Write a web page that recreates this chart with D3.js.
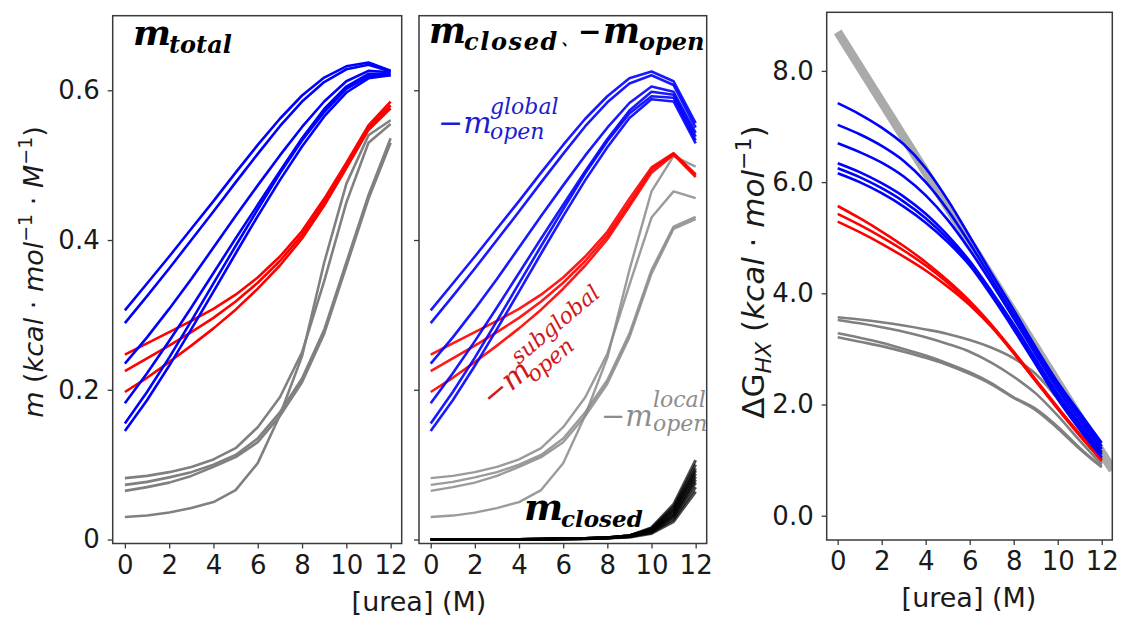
<!DOCTYPE html>
<html>
<head>
<meta charset="utf-8">
<script src="https://cdn.jsdelivr.net/npm/d3@7"></script>
<style>
  html, body { margin: 0; padding: 0; background: #ffffff; }
  svg { display: block; }
</style>
</head>
<body>
<script>
// ---------------- DATA ----------------
const urea = [0, 1, 2, 3, 4, 5, 6, 7, 8, 9, 10, 11, 12];
const xTickVals = [0, 2, 4, 6, 8, 10, 12];
const mTickVals = [0, 0.2, 0.4, 0.6];
const mTickLabels = ["0", "0.2", "0.4", "0.6"];
const dgTickVals = [0, 2, 4, 6, 8];
const dgTickLabels = ["0.0", "2.0", "4.0", "6.0", "8.0"];

// Panel 1: m_total
const totalBlue = [
  [0.306,0.342,0.378,0.415,0.452,0.490,0.527,0.562,0.593,0.617,0.632,0.637,0.626],
  [0.289,0.325,0.362,0.400,0.438,0.477,0.515,0.552,0.585,0.611,0.628,0.634,0.625],
  [0.235,0.270,0.308,0.348,0.390,0.432,0.473,0.513,0.551,0.585,0.612,0.626,0.624],
  [0.182,0.222,0.265,0.310,0.356,0.402,0.447,0.492,0.536,0.575,0.605,0.622,0.622],
  [0.155,0.197,0.243,0.292,0.342,0.392,0.441,0.489,0.533,0.571,0.602,0.619,0.620],
  [0.145,0.186,0.232,0.281,0.331,0.382,0.432,0.480,0.525,0.565,0.597,0.616,0.620]
];
const totalRed = [
  [0.247,0.262,0.277,0.292,0.308,0.327,0.350,0.378,0.412,0.455,0.503,0.553,0.585],
  [0.225,0.242,0.259,0.277,0.296,0.318,0.343,0.372,0.407,0.450,0.500,0.550,0.580],
  [0.197,0.216,0.237,0.259,0.282,0.307,0.335,0.366,0.402,0.446,0.496,0.547,0.576]
];
const totalGray = [
  [0.082,0.085,0.090,0.097,0.107,0.122,0.150,0.190,0.250,0.345,0.450,0.530,0.555],
  [0.073,0.077,0.083,0.090,0.100,0.113,0.135,0.170,0.215,0.280,0.370,0.460,0.536],
  [0.065,0.070,0.076,0.085,0.097,0.110,0.130,0.165,0.210,0.275,0.365,0.455,0.530],
  [0.030,0.032,0.036,0.042,0.050,0.066,0.102,0.166,0.245,0.370,0.475,0.540,0.560]
];

// Panel 2: m_closed and -m_open
const openBlue = [
  [0.306,0.342,0.378,0.415,0.452,0.490,0.527,0.562,0.592,0.616,0.625,0.612,0.556],
  [0.289,0.325,0.362,0.400,0.438,0.477,0.515,0.552,0.584,0.609,0.620,0.607,0.550],
  [0.235,0.270,0.308,0.348,0.390,0.432,0.473,0.513,0.550,0.583,0.605,0.598,0.543],
  [0.182,0.222,0.265,0.310,0.356,0.402,0.447,0.492,0.535,0.573,0.598,0.594,0.538],
  [0.155,0.197,0.243,0.292,0.342,0.392,0.441,0.489,0.532,0.569,0.592,0.590,0.533],
  [0.145,0.186,0.232,0.281,0.331,0.382,0.432,0.480,0.524,0.563,0.588,0.585,0.529]
];
const openRed = [
  [0.247,0.262,0.277,0.292,0.308,0.327,0.350,0.378,0.411,0.455,0.497,0.516,0.488],
  [0.225,0.242,0.259,0.277,0.296,0.318,0.343,0.372,0.406,0.449,0.494,0.515,0.486],
  [0.197,0.216,0.237,0.259,0.282,0.307,0.335,0.366,0.401,0.445,0.490,0.514,0.484]
];
const openGray = [
  [0.082,0.085,0.090,0.097,0.107,0.122,0.150,0.190,0.248,0.340,0.430,0.465,0.456],
  [0.073,0.077,0.083,0.090,0.100,0.113,0.135,0.170,0.213,0.275,0.360,0.418,0.431],
  [0.065,0.070,0.076,0.085,0.097,0.110,0.130,0.165,0.208,0.270,0.355,0.415,0.428],
  [0.030,0.032,0.036,0.042,0.050,0.066,0.102,0.166,0.243,0.360,0.465,0.512,0.498]
];
const closedBlack = [
  [0,0,0,0,0,0.0005,0.001,0.0015,0.0025,0.005,0.016,0.047,0.106],
  [0,0,0,0,0,0.0005,0.001,0.0015,0.0025,0.005,0.015,0.044,0.100],
  [0,0,0,0,0,0.0005,0.001,0.0015,0.0025,0.005,0.014,0.041,0.095],
  [0,0,0,0,0,0.0005,0.001,0.0015,0.0025,0.005,0.013,0.039,0.092],
  [0,0,0,0,0,0.0005,0.001,0.0015,0.0025,0.005,0.012,0.037,0.088],
  [0,0,0,0,0,0.0005,0.001,0.0015,0.0025,0.004,0.011,0.034,0.084],
  [0,0,0,0,0,0.0005,0.001,0.0015,0.0020,0.004,0.011,0.032,0.080],
  [0,0,0,0,0,0.0005,0.001,0.0015,0.0020,0.004,0.010,0.030,0.076],
  [0,0,0,0,0,0.0005,0.001,0.0010,0.0020,0.004,0.009,0.027,0.070],
  [0,0,0,0,0,0.0005,0.001,0.0010,0.0020,0.003,0.008,0.024,0.064]
];

// Panel 3: ΔG_HX
const refUrea = [0, 12.5];
const refDG = [8.70, 0.82];
const dgBlue = [
  [7.42,7.22,6.98,6.68,6.25,5.68,5.02,4.35,3.70,3.03,2.40,1.85,1.31],
  [7.03,6.86,6.65,6.38,6.00,5.50,4.90,4.26,3.62,2.97,2.34,1.79,1.25],
  [6.70,6.54,6.35,6.10,5.76,5.32,4.78,4.18,3.55,2.90,2.27,1.72,1.20],
  [6.34,6.18,5.98,5.74,5.43,5.04,4.58,4.03,3.44,2.81,2.19,1.65,1.14],
  [6.25,6.09,5.89,5.65,5.35,4.98,4.54,3.98,3.39,2.76,2.14,1.60,1.10],
  [6.16,6.00,5.80,5.56,5.27,4.92,4.50,3.95,3.35,2.72,2.10,1.55,1.05]
];
const dgRed = [
  [5.57,5.35,5.11,4.85,4.56,4.23,3.86,3.43,2.95,2.45,1.95,1.47,1.02],
  [5.43,5.23,5.01,4.77,4.50,4.19,3.83,3.41,2.93,2.43,1.93,1.45,1.00],
  [5.29,5.10,4.89,4.66,4.41,4.12,3.79,3.39,2.92,2.42,1.92,1.44,0.99]
];
const dgGray = [
  [3.57,3.53,3.48,3.42,3.35,3.27,3.16,3.02,2.83,2.55,2.10,1.55,0.95],
  [3.52,3.46,3.39,3.31,3.21,3.09,2.95,2.75,2.50,2.20,1.80,1.35,0.92],
  [3.28,3.20,3.11,3.00,2.88,2.74,2.58,2.38,2.13,1.92,1.60,1.22,0.88],
  [3.21,3.13,3.05,2.95,2.84,2.71,2.55,2.36,2.12,1.90,1.57,1.20,0.87]
];

// ---------------- DRAWING ----------------
const W = 1121, H = 619;
const svg = d3.select("body").append("svg").attr("width", W).attr("height", H)
  .style("font-family", "'DejaVu Sans', sans-serif");

const FRAME = "#3a3a3a";
const TICKFONT = 26;

function makePanel(o) {
  const x = d3.scaleLinear().domain(o.xDom).range([o.left, o.right]);
  const y = d3.scaleLinear().domain(o.yDom).range([o.bottom, o.top]);
  const g = svg.append("g");
  const content = g.append("g");
  const xa = g.append("g").attr("transform", `translate(0,${o.bottom})`)
    .call(d3.axisBottom(x).tickValues(xTickVals).tickSize(5).tickPadding(7).tickFormat(d => String(d)));
  const ya = g.append("g").attr("transform", `translate(${o.left},0)`)
    .call(d3.axisLeft(y).tickValues(o.yTickVals).tickSize(5).tickPadding(8)
      .tickFormat((d, i) => o.showYLabels ? o.yTickLabels[i] : ""));
  [xa, ya].forEach(a => {
    a.select(".domain").remove();
    a.selectAll(".tick line").attr("stroke", FRAME).attr("stroke-width", 1.3);
    a.selectAll(".tick text").attr("fill", "#1a1a1a")
      .style("font-size", TICKFONT + "px").style("font-family", "'DejaVu Sans', sans-serif");
  });
  g.append("rect").attr("x", o.left).attr("y", o.top)
    .attr("width", o.right - o.left).attr("height", o.bottom - o.top)
    .attr("fill", "none").attr("stroke", FRAME).attr("stroke-width", 1.5);
  const id = "clip" + Math.round(o.left);
  svg.append("clipPath").attr("id", id).append("rect")
    .attr("x", o.left).attr("y", o.top).attr("width", o.right - o.left).attr("height", o.bottom - o.top);
  content.attr("clip-path", `url(#${id})`);
  return { x, y, g: content };
}

function drawLines(p, series, color, width, opacity, curve) {
  const line = d3.line().x((d, i) => p.x(urea[i])).y(d => p.y(d)).curve(curve || d3.curveLinear);
  p.g.append("g").selectAll("path").data(series).join("path")
    .attr("d", line).attr("fill", "none").attr("stroke", color)
    .attr("stroke-width", width).attr("stroke-opacity", opacity)
    .attr("stroke-linejoin", "round").attr("stroke-linecap", "butt");
}

// Panel 1
const p1 = makePanel({ left: 112.7, right: 401.7, top: 15.7, bottom: 543.5,
  xDom: [-0.55, 12.5], yDom: [-0.0053, 0.6996],
  yTickVals: mTickVals, yTickLabels: mTickLabels, showYLabels: true });
drawLines(p1, totalGray, "#808080", 2.6, 1);
drawLines(p1, totalRed, "#ff0000", 2.6, 1);
drawLines(p1, totalBlue, "#0000ff", 2.6, 1);

// Panel 2
const p2 = makePanel({ left: 419, right: 706.7, top: 15.7, bottom: 543.5,
  xDom: [-0.53, 12.5], yDom: [-0.0053, 0.6996],
  yTickVals: mTickVals, yTickLabels: mTickLabels, showYLabels: false });
drawLines(p2, openGray, "#8a8a8a", 2.4, 0.85);
drawLines(p2, openRed, "#ff0000", 2.6, 0.9);
drawLines(p2, openBlue, "#0000ff", 2.6, 0.9);
drawLines(p2, closedBlack, "#000000", 3, 0.7);

// Panel 3
const p3 = makePanel({ left: 826.7, right: 1112.3, top: 12.3, bottom: 540,
  xDom: [-0.5, 12.48], yDom: [-0.437, 9.054],
  yTickVals: dgTickVals, yTickLabels: dgTickLabels, showYLabels: true });
p3.g.append("path")
  .attr("d", d3.line().x((d, i) => p3.x(refUrea[i])).y(d => p3.y(d))(refDG))
  .attr("fill", "none").attr("stroke", "#aaaaaa").attr("stroke-width", 9);
drawLines(p3, dgGray, "#808080", 2.6, 1, d3.curveMonotoneX);
drawLines(p3, dgRed, "#ff0000", 2.6, 1, d3.curveMonotoneX);
drawLines(p3, dgBlue, "#0000ff", 2.6, 1, d3.curveMonotoneX);

// ---------------- TEXT ----------------
const SERIF = "'DejaVu Serif', serif";
const SANS = "'DejaVu Sans', sans-serif";
function txt(parts, opts) {
  const t = svg.append("text")
    .style("font-family", opts.family || SERIF)
    .style("font-style", opts.italic === false ? "normal" : "italic")
    .style("font-weight", opts.bold ? "bold" : "normal")
    .attr("fill", opts.fill || "#000");
  if (opts.x !== undefined) t.attr("x", opts.x);
  if (opts.y !== undefined) t.attr("y", opts.y);
  if (opts.transform) t.attr("transform", opts.transform);
  if (opts.anchor) t.attr("text-anchor", opts.anchor);
  parts.forEach(pt => {
    const s = t.append("tspan").text(pt.t).style("font-size", pt.size + "px");
    if (pt.x !== undefined) s.attr("x", pt.x);
    if (pt.y !== undefined) s.attr("y", pt.y);
    if (pt.dx) s.attr("dx", pt.dx);
    if (pt.dy) s.attr("dy", pt.dy);
    if (pt.style) s.style("font-style", pt.style);
    if (pt.ls) s.style("letter-spacing", pt.ls + "px");
  });
  return t;
}

// Panel titles
txt([{ t: "m", size: 36, x: 133, y: 45 }, { t: "total", size: 24, x: 169, y: 53 }], { bold: true });
txt([{ t: "m", size: 35, x: 429, y: 43 }, { t: "closed", size: 24, x: 464, y: 50, ls: 1.6 },
  { t: "\u3001", size: 17, x: 561, y: 44, style: "normal" },
  { t: "\u2212", size: 28, x: 578, y: 41 }, { t: "m", size: 35, x: 603, y: 43 },
  { t: "open", size: 24, x: 639, y: 50 }], { bold: true });

// Annotations in panel 2
const BLUE_T = "#1c1cd0", RED_T = "#d01818", GRAY_T = "#8c8c8c";
txt([{ t: "\u2212m", size: 30, x: 438, y: 133 }, { t: "global", size: 22, x: 490, y: 114 },
  { t: "open", size: 22, x: 490, y: 139 }], { fill: BLUE_T });
txt([{ t: "\u2212m", size: 30, x: 0, y: 0 }, { t: "subglobal", size: 22, x: 48, y: -16 },
  { t: "open", size: 22, x: 48, y: 8 }], { fill: RED_T, transform: "translate(492,408) rotate(-40)" });
txt([{ t: "\u2212m", size: 29, x: 601, y: 426 }, { t: "local", size: 22, x: 653, y: 407 },
  { t: "open", size: 22, x: 653, y: 431 }], { fill: GRAY_T });
txt([{ t: "m", size: 37, x: 524, y: 520 }, { t: "closed", size: 23, x: 561, y: 527 }], { bold: true });

// Axis labels
txt([{ t: "[urea] (M)", size: 27 }], { x: 419, y: 611, family: SANS, italic: false, anchor: "middle", fill: "#1a1a1a" });
txt([{ t: "[urea] (M)", size: 27 }], { x: 969, y: 607, family: SANS, italic: false, anchor: "middle", fill: "#1a1a1a" });

txt([
  { t: "m", size: 27 }, { t: " (", size: 27, style: "normal" }, { t: "kcal", size: 27 },
  { t: " \u00b7 ", size: 27, style: "normal" }, { t: "mol", size: 27 },
  { t: "\u22121", size: 19, dy: -11, style: "normal" },
  { t: " \u00b7 ", size: 27, dy: 11, style: "normal" }, { t: "M", size: 27 },
  { t: "\u22121", size: 19, dy: -11, style: "normal" },
  { t: ")", size: 27, dy: 11, style: "normal" }
], { x: 0, y: 0, family: SANS, anchor: "middle", transform: "translate(43,272) rotate(-90)", fill: "#1a1a1a" });

txt([
  { t: "\u0394G", size: 31, style: "normal" }, { t: "HX", size: 22, dy: 7 },
  { t: " (", size: 31, dy: -7, style: "normal" }, { t: "kcal", size: 31 },
  { t: " \u00b7 ", size: 31, style: "normal" }, { t: "mol", size: 31 },
  { t: "\u22121", size: 22, dy: -13, style: "normal" },
  { t: ")", size: 31, dy: 13, style: "normal" }
], { x: 0, y: 0, family: SANS, anchor: "middle", transform: "translate(764,272) rotate(-90)", fill: "#1a1a1a" });
</script>
</body>
</html>
